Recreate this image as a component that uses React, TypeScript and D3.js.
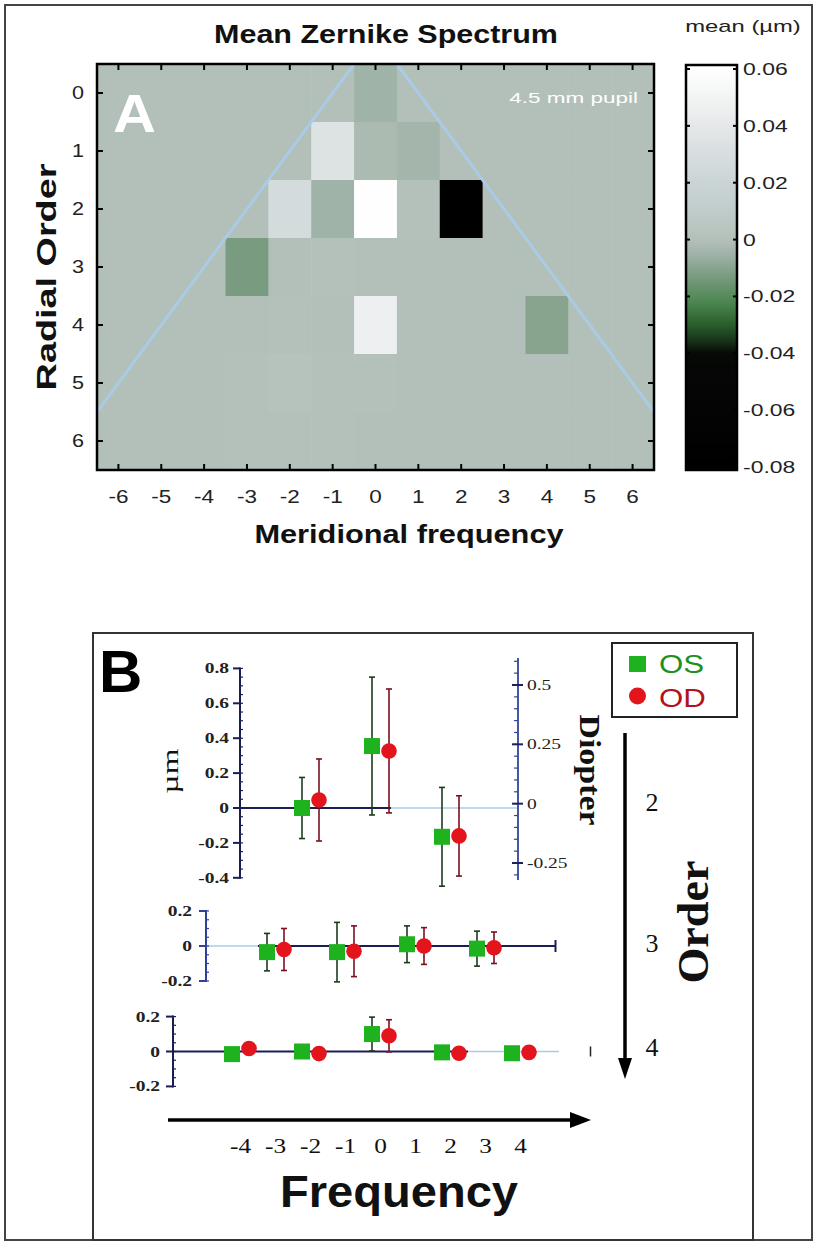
import React, { useEffect, useRef } from 'react';
import * as d3 from 'd3';

const WIDTH = 817;
const HEIGHT = 1252;

// ---------- panel A : mean Zernike spectrum ----------
const meridionalFreqs = [-6, -5, -4, -3, -2, -1, 0, 1, 2, 3, 4, 5, 6];
const radialOrders = [0, 1, 2, 3, 4, 5, 6];
// mean coefficient (µm), one row per radial order, one column per meridional frequency
const meanZernike = [
  [0, 0, 0, 0, 0, 0, -0.005, 0, 0, 0, 0, 0, 0],
  [0, 0, 0, 0, 0, 0.034, -0.002, -0.004, 0, 0, 0, 0, 0],
  [0, 0, 0, 0, 0.027, -0.005, 0.059, 0.001, -0.079, 0, 0, 0, 0],
  [0, 0, 0, -0.013, 0, 0.001, 0, 0, 0, 0, 0, 0, 0],
  [0, 0, 0, 0, 0.001, 0, 0.046, 0, 0, 0, -0.01, 0, 0],
  [0, 0, 0, 0.001, 0.002, 0.001, 0.001, 0, 0, 0, 0, 0, 0],
  [0, 0, 0, 0.001, 0.001, 0.001, 0, 0, 0, 0, 0, 0, 0],
];
const colorbarTicks = [0.06, 0.04, 0.02, 0, -0.02, -0.04, -0.06, -0.08];

// ---------- panel B : order 2, 3, 4 coefficients, OS vs OD ----------
const order2Freqs = [-2, 0, 2];
const order2OS = [0.0, 0.355, -0.165];
const order2OSsd = [0.175, 0.395, 0.283];
const order2OD = [0.046, 0.327, -0.16];
const order2ODsd = [0.235, 0.355, 0.23];

const order3Freqs = [-3, -1, 1, 3];
const order3OS = [-0.035, -0.035, 0.01, -0.015];
const order3OSsd = [0.107, 0.17, 0.105, 0.1];
const order3OD = [-0.02, -0.03, 0.0, -0.01];
const order3ODsd = [0.12, 0.145, 0.105, 0.09];

const order4Freqs = [-4, -2, 0, 2, 4];
const order4OS = [-0.015, 0.0, 0.1, -0.005, -0.01];
const order4OSsd = [0.015, 0.02, 0.097, 0.015, 0.015];
const order4OD = [0.017, -0.012, 0.09, -0.01, -0.005];
const order4ODsd = [0.015, 0.02, 0.092, 0.015, 0.015];

const order2Ticks = [0.8, 0.6, 0.4, 0.2, 0, -0.2, -0.4];
const smallTicks = [0.2, 0, -0.2];
const diopterTicks = [0.5, 0.25, 0, -0.25];
const frequencyLabels = [-4, -3, -2, -1, 0, 1, 2, 3, 4];
const orderLabels = [2, 3, 4];

const SANS = '"Liberation Sans", Arial, Helvetica, sans-serif';
const SERIF = '"Liberation Serif", "Times New Roman", serif';

const NAVY = '#1b1d55';
const BLUE = '#30409a';
const LIGHT = '#a9cbe6';
const OS_FILL = '#1fb21f';
const OD_FILL = '#e3141b';

type Sel = d3.Selection<SVGGElement, unknown, null, undefined>;

function label(g: Sel, x: number, y: number, str: string, o: any) {
  g.append('text')
    .attr('transform', `translate(${x},${y}) rotate(${o.rotate || 0}) scale(${o.sx || 1},1)`)
    .attr('text-anchor', o.anchor || 'start')
    .attr('fill', o.fill || '#111')
    .style('font-family', o.family || SANS)
    .style('font-size', `${o.size}px`)
    .style('font-weight', o.weight || 'normal')
    .text(str);
}

function seg(g: Sel, x1: number, y1: number, x2: number, y2: number, stroke: string, w: number) {
  g.append('line')
    .attr('x1', x1).attr('y1', y1).attr('x2', x2).attr('y2', y2)
    .attr('stroke', stroke).attr('stroke-width', w);
}

function drawPanelA(root: Sel) {
  const g = root.append('g');
  const left = 97, right = 654, top = 64, bottom = 470;

  const colorScale = d3.scaleLinear<string>()
    .domain([-0.08, -0.04, -0.036, -0.03, -0.022, -0.014, -0.006, 0, 0.01, 0.02, 0.04, 0.06])
    .range(['#000000', '#060806', '#163018', '#2a5e2c', '#4c8650', '#74987a', '#9cb0a4',
      '#b3c0b9', '#c0ccca', '#cad4d6', '#e5e8e9', '#ffffff'])
    .clamp(true);

  const x = d3.scaleBand<number>().domain(meridionalFreqs).range([left, right]);
  const y = d3.scaleBand<number>().domain(radialOrders).range([top, bottom]);
  const xl = d3.scaleLinear().domain([-6.5, 6.5]).range([left, right]);
  const yl = d3.scaleLinear().domain([-0.5, 6.5]).range([top, bottom]);

  // cells
  radialOrders.forEach((n, i) => {
    meridionalFreqs.forEach((m, j) => {
      g.append('rect')
        .attr('x', x(m)!)
        .attr('y', y(n)!)
        .attr('width', x.bandwidth() + 0.6)
        .attr('height', y.bandwidth() + 0.6)
        .attr('fill', colorScale(meanZernike[i][j]));
    });
  });

  // pyramid boundary lines
  g.append('clipPath').attr('id', 'clipA')
    .append('rect').attr('x', left).attr('y', top).attr('width', right - left).attr('height', bottom - top);
  const lines = g.append('g').attr('clip-path', 'url(#clipA)');
  seg(lines as any, xl(-0.5), yl(-0.5), xl(-6.5), yl(5.5), LIGHT, 3);
  seg(lines as any, xl(0.5), yl(-0.5), xl(6.5), yl(5.5), LIGHT, 3);

  // frame + inward ticks
  g.append('rect').attr('x', left).attr('y', top).attr('width', right - left).attr('height', bottom - top)
    .attr('fill', 'none').attr('stroke', '#000').attr('stroke-width', 2.5);
  meridionalFreqs.forEach((m) => {
    const cx = x(m)! + x.bandwidth() / 2;
    seg(g, cx, top, cx, top + 6, '#000', 2);
    seg(g, cx, bottom, cx, bottom - 6, '#000', 2);
    label(g, cx, 503, String(m), { size: 18, anchor: 'middle', sx: 1.25, fill: '#222' });
  });
  radialOrders.forEach((n) => {
    const cy = y(n)! + y.bandwidth() / 2;
    seg(g, left, cy, left + 6, cy, '#000', 2);
    seg(g, right, cy, right - 6, cy, '#000', 2);
    label(g, 78, cy + 6, String(n), { size: 18, anchor: 'middle', sx: 1.2, fill: '#222' });
  });

  label(g, 386, 43, 'Mean Zernike Spectrum', { size: 25, weight: 'bold', anchor: 'middle', sx: 1.22 });
  label(g, 409, 543, 'Meridional frequency', { size: 25, weight: 'bold', anchor: 'middle', sx: 1.23 });
  label(g, 56, 277, 'Radial Order', { size: 28, weight: 'bold', anchor: 'middle', sx: 1.35, rotate: -90 });
  label(g, 113, 132, 'A', { size: 54, weight: 'bold', fill: '#ffffff', sx: 1.1 });
  label(g, 638, 103, '4.5 mm pupil', { size: 15, anchor: 'end', fill: '#ffffff', sx: 1.5 });

  // colorbar
  const cbX = 686, cbW = 51, cbTop = 65, cbBottom = 470;
  const yCb = d3.scaleLinear().domain([-0.08, 0.06]).range([467, 69]);
  const grad = g.append('linearGradient').attr('id', 'cbGrad')
    .attr('x1', 0).attr('y1', 0).attr('x2', 0).attr('y2', 1);
  d3.range(0, 101).forEach((k) => {
    const py = cbTop + (k / 100) * (cbBottom - cbTop);
    grad.append('stop').attr('offset', `${k}%`).attr('stop-color', colorScale(yCb.invert(py)));
  });
  g.append('rect').attr('x', cbX).attr('y', cbTop).attr('width', cbW).attr('height', cbBottom - cbTop)
    .attr('fill', 'url(#cbGrad)').attr('stroke', '#000').attr('stroke-width', 2.5);
  colorbarTicks.forEach((v) => {
    const py = yCb(v);
    seg(g, cbX, py, cbX + 4, py, '#000', 2);
    seg(g, cbX + cbW, py, cbX + cbW - 4, py, '#000', 2);
    label(g, 743, py + 6, String(v), { size: 17, sx: 1.35, fill: '#222' });
  });
  label(g, 743, 32, 'mean (µm)', { size: 17, anchor: 'middle', sx: 1.4, fill: '#222' });
}

function errorPoints(g: Sel, xc: d3.ScaleLinear<number, number>, y: d3.ScaleLinear<number, number>,
  freqs: number[], vals: number[], sds: number[], kind: 'OS' | 'OD') {
  const off = kind === 'OS' ? -8.5 : 8.5;
  const barColor = kind === 'OS' ? '#1d3a1d' : '#7a1020';
  freqs.forEach((m, i) => {
    const px = xc(m) + off;
    const hi = y(vals[i] + sds[i]);
    const lo = y(vals[i] - sds[i]);
    seg(g, px, hi, px, lo, barColor, 1.6);
    seg(g, px - 3, hi, px + 3, hi, barColor, 1.6);
    seg(g, px - 3, lo, px + 3, lo, barColor, 1.6);
  });
  freqs.forEach((m, i) => {
    const px = xc(m) + off;
    const py = y(vals[i]);
    if (kind === 'OS') {
      g.append('rect').attr('x', px - 8).attr('y', py - 8).attr('width', 16).attr('height', 16)
        .attr('fill', OS_FILL);
    } else {
      g.append('circle').attr('cx', px).attr('cy', py).attr('r', 7.8).attr('fill', OD_FILL);
    }
  });
}

function leftAxis(g: Sel, ax: number, y: d3.ScaleLinear<number, number>, ticks: number[],
  lo: number, hi: number, color: string, labelX: number) {
  seg(g, ax, y(hi) - 1, ax, y(lo) + 1, color, 2);
  d3.range(Math.round(lo / 0.05), Math.round(hi / 0.05) + 1).forEach((k) => {
    const py = y(k * 0.05);
    seg(g, ax, py, ax + 3, py, color, 1.2);
  });
  ticks.forEach((v) => {
    seg(g, ax - 7, y(v), ax, y(v), color, 2);
    label(g, labelX, y(v) + 5, String(v), { size: 15, weight: 'bold', anchor: 'end', sx: 1.3, family: SERIF, fill: '#222' });
  });
}

function drawPanelB(root: Sel) {
  const g = root.append('g');
  // box
  g.append('rect').attr('x', 93).attr('y', 633).attr('width', 660).attr('height', 607)
    .attr('fill', 'none').attr('stroke', '#333').attr('stroke-width', 2);
  label(g, 99, 692, 'B', { size: 60, weight: 'bold', fill: '#000' });

  const xc = d3.scaleLinear().domain([-4, 4]).range([240.5, 520.5]);

  // ----- order 2 -----
  const y2 = d3.scaleLinear().domain([-0.4, 0.8]).range([877.8, 668.4]);
  seg(g, 240, y2(0), xc(0.3), y2(0), NAVY, 2.2);
  seg(g, xc(0.3), y2(0), 518, y2(0), LIGHT, 1.5);
  leftAxis(g, 240, y2, order2Ticks, -0.4, 0.8, NAVY, 229);
  label(g, 178, 771, 'µm', { size: 24, anchor: 'middle', rotate: -90, sx: 1.4, family: SERIF, fill: '#111' });

  // diopter axis
  const yD = d3.scaleLinear().domain([-0.25, 0.5]).range([863, 685]);
  seg(g, 518, 658, 518, 880, '#33449a', 1.8);
  d3.range(-6, 13).forEach((k) => {
    const py = yD(k * 0.05);
    if (py > 660 && py < 878) seg(g, 514, py, 518, py, '#33449a', 1.2);
  });
  diopterTicks.forEach((v) => {
    seg(g, 512, yD(v), 523, yD(v), '#1b2060', 2);
    label(g, 527, yD(v) + 5, String(v), { size: 15, sx: 1.3, family: SERIF, fill: '#222' });
  });
  label(g, 580, 770, 'Diopter', { size: 30, weight: 'bold', anchor: 'middle', rotate: 90, sx: 1.13, family: SERIF, fill: '#111' });

  errorPoints(g, xc, y2, order2Freqs, order2OS, order2OSsd, 'OS');
  errorPoints(g, xc, y2, order2Freqs, order2OD, order2ODsd, 'OD');

  // ----- order 3 -----
  const y3 = d3.scaleLinear().domain([-0.2, 0.2]).range([981, 911]);
  seg(g, 206, y3(0), xc(-3.5), y3(0), LIGHT, 1.5);
  seg(g, xc(-3.5), y3(0), xc(5), y3(0), NAVY, 2.2);
  seg(g, xc(5), y3(0) - 6, xc(5), y3(0) + 6, NAVY, 2);
  leftAxis(g, 206, y3, smallTicks, -0.2, 0.2, BLUE, 192);
  errorPoints(g, xc, y3, order3Freqs, order3OS, order3OSsd, 'OS');
  errorPoints(g, xc, y3, order3Freqs, order3OD, order3ODsd, 'OD');

  // ----- order 4 -----
  const y4 = d3.scaleLinear().domain([-0.2, 0.2]).range([1086.4, 1016.6]);
  seg(g, 173, y4(0), xc(2.5), y4(0), NAVY, 2.2);
  seg(g, xc(2.5), y4(0), xc(5.1), y4(0), LIGHT, 1.5);
  seg(g, xc(6), y4(0) - 5, xc(6), y4(0) + 5, '#222', 1.5);
  leftAxis(g, 173, y4, smallTicks, -0.2, 0.2, NAVY, 160);
  errorPoints(g, xc, y4, order4Freqs, order4OS, order4OSsd, 'OS');
  errorPoints(g, xc, y4, order4Freqs, order4OD, order4ODsd, 'OD');

  // legend
  g.append('rect').attr('x', 612).attr('y', 643).attr('width', 125).attr('height', 74)
    .attr('fill', '#fff').attr('stroke', '#222').attr('stroke-width', 2);
  g.append('rect').attr('x', 629).attr('y', 656).attr('width', 17).attr('height', 16).attr('fill', OS_FILL);
  g.append('circle').attr('cx', 637.5).attr('cy', 696).attr('r', 8.5).attr('fill', OD_FILL);
  label(g, 659, 673, 'OS', { size: 25, sx: 1.25, fill: '#1f8f1f' });
  label(g, 659, 707, 'OD', { size: 25, sx: 1.25, fill: '#b0141a' });

  // order arrow
  seg(g, 625, 733, 625, 1062, '#000', 3.5);
  g.append('path').attr('d', 'M618,1058 L632,1058 L625,1079 Z').attr('fill', '#000');
  const yOrder = d3.scaleLinear().domain([2, 4]).range([802, 1047]);
  orderLabels.forEach((n) => {
    const py = n === 3 ? 943 : yOrder(n);
    label(g, 652, py + 9, String(n), { size: 26, anchor: 'middle', family: SERIF, fill: '#111' });
  });
  label(g, 708, 922, 'Order', { size: 44, weight: 'bold', anchor: 'middle', rotate: -90, family: SERIF, sx: 1.05 });

  // frequency arrow
  seg(g, 168, 1120, 575, 1120, '#000', 3.5);
  g.append('path').attr('d', 'M570,1112 L570,1128 L591,1120 Z').attr('fill', '#000');
  frequencyLabels.forEach((m) => {
    label(g, xc(m), 1153, String(m), { size: 22, anchor: 'middle', family: SERIF, sx: 1.15, fill: '#111' });
  });
  label(g, 399, 1207, 'Frequency', { size: 44, weight: 'bold', anchor: 'middle', sx: 1.07 });
}

export default function App() {
  const ref = useRef<SVGSVGElement>(null);

  useEffect(() => {
    const svg = d3.select(ref.current);
    svg.selectAll('*').remove();
    const root = svg.append('g') as unknown as Sel;
    root.append('rect').attr('x', 0).attr('y', 0).attr('width', WIDTH).attr('height', HEIGHT).attr('fill', '#fff');
    // outer frame
    root.append('rect').attr('x', 5).attr('y', 5).attr('width', 807).attr('height', 1235)
      .attr('fill', 'none').attr('stroke', '#444').attr('stroke-width', 2);
    drawPanelA(root);
    drawPanelB(root);
  }, []);

  return (
    <svg
      ref={ref}
      width={WIDTH}
      height={HEIGHT}
      style={{ position: 'absolute', left: 0, top: 0, display: 'block' }}
    />
  );
}
